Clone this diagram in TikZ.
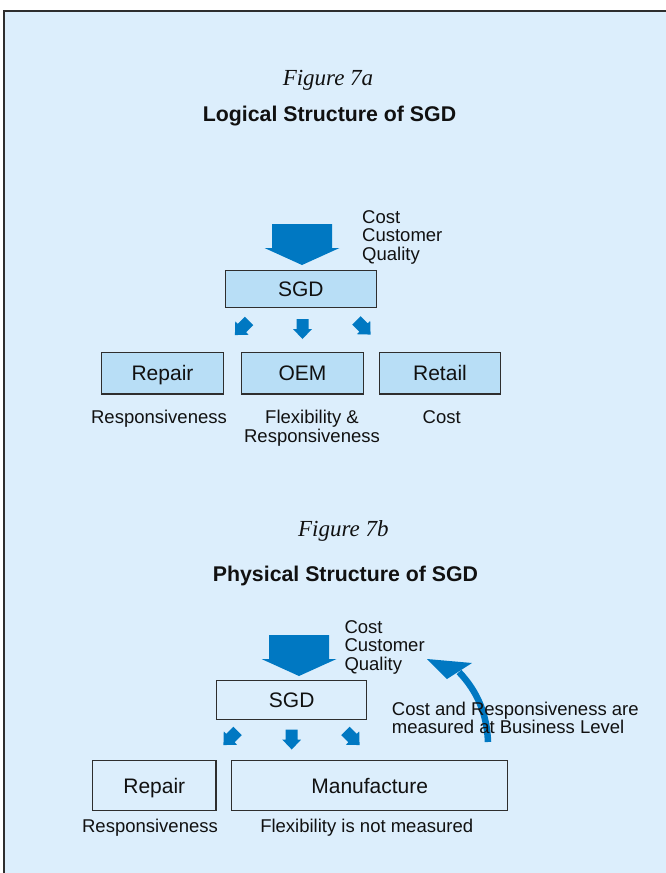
\documentclass[tikz,border=0pt]{standalone}
\usepackage{fontspec}
\setmainfont{Liberation Sans}
\newfontfamily\figfont{Liberation Serif}

\definecolor{panel}{HTML}{DCEEFC}
\definecolor{boxblue}{HTML}{B8DEF6}
\definecolor{arrowblue}{HTML}{0078C2}
\definecolor{edge}{HTML}{2E2E2E}
\definecolor{ink}{HTML}{111111}

\tikzset{
  unitbox/.style={draw=edge, line width=1.1pt, inner sep=0pt, text=ink,
    text height=15pt, text depth=0pt, font=\fontsize{21}{21}\selectfont},
  bluebox/.style={unitbox, fill=boxblue},
  caption/.style={inner sep=0pt, text=ink, font=\fontsize{18.5}{18.6}\selectfont},
  figtitle/.style={inner sep=0pt, text=ink, font=\figfont\itshape\fontsize{23}{23}\selectfont},
  headline/.style={inner sep=0pt, text=ink, font=\bfseries\fontsize{21.3}{21}\selectfont},
  pics/bigarrow/.style={code={
    \fill[arrowblue] (-30,-41) -- (30,-41) -- (30,-17) -- (37.5,-17) -- (0,0)
      -- (-37.5,-17) -- (-30,-17) -- cycle;}},
  pics/smallarrow/.style={code={
    \fill[arrowblue] (-6,-10) -- (6,-10) -- (6,0) -- (9.5,0) -- (0,10)
      -- (-9.5,0) -- (-6,0) -- cycle;}},
}

\begin{document}
\begin{tikzpicture}[x=1pt,y=-1pt]
\useasboundingbox (0,0) rectangle (666,873);

% panel and its frame
\fill[panel] (3,10) rectangle (666,873);
\draw[edge, line width=2pt] (4,873) -- (4,11) -- (666,11);

% ---------- Figure 7a ----------
\node[figtitle, anchor=base] (t7a) at (328,85) {Figure 7a};
\node[headline, anchor=base] (h7a) at (329.5,121.7) {Logical Structure of SGD};

\node[bluebox, minimum width=151.7pt, minimum height=37pt] (sgdA) at (300.9,289) {SGD};
\pic at (302,265) {bigarrow};
\node[caption, anchor=north west, align=left] (inA) at (362,210) {Cost\\Customer\\Quality};

\pic[rotate=-45] at (242,328) {smallarrow};
\pic at (302.5,329) {smallarrow};
\pic[rotate=45] at (363.5,327.5) {smallarrow};

\node[bluebox, minimum width=121.6pt, minimum height=41.3pt] (repA) at (162.5,373.3) {Repair};
\node[bluebox, minimum width=121.6pt, minimum height=41.3pt] (oemA) at (302.5,373.3) {OEM};
\node[bluebox, minimum width=121.4pt, minimum height=41.3pt] (retA) at (440,373.3) {Retail};

\node[caption, anchor=base] (mRepA) at (159,423.3) {Responsiveness};
\node[caption, anchor=north, align=center] (mOemA) at (312,410.3) {Flexibility \&\\Responsiveness};
\node[caption, anchor=base] (mRetA) at (441.7,423.3) {Cost};

% ---------- Figure 7b ----------
\node[figtitle, anchor=base] (t7b) at (343.3,536) {Figure 7b};
\node[headline, anchor=base] (h7b) at (345.5,581.7) {Physical Structure of SGD};

\node[unitbox, minimum width=150pt, minimum height=39.3pt] (sgdB) at (291.7,700) {SGD};
\pic at (299,676) {bigarrow};
\node[caption, anchor=north west, align=left] (inB) at (344.3,620) {Cost\\Customer\\Quality};

\pic[rotate=-45] at (230.5,738) {smallarrow};
\pic at (291.7,739.5) {smallarrow};
\pic[rotate=45] at (352.5,738) {smallarrow};

\node[unitbox, minimum width=123.3pt, minimum height=50pt] (repB) at (154.3,785.7) {Repair};
\node[unitbox, minimum width=276pt, minimum height=50pt] (manB) at (369.7,785.7) {Manufacture};

\node[caption, anchor=base] (mRepB) at (150,832.5) {Responsiveness};
\node[caption, anchor=base] (mManB) at (366.7,832.5) {Flexibility is not measured};

% feedback arrow from the manufacturing level back to the business inputs
\coordinate (fbStart) at (488,742);
\coordinate (fbEnd) at (459,672);
\draw[arrowblue, line width=6.5pt] (fbStart) .. controls (487,715) and (478,692) .. (fbEnd);
\fill[arrowblue] (427,659) -- (472,663) -- (447,679) -- cycle;

\node[caption, anchor=north west, align=left] (note) at (391.7,701.5)
  {Cost and Responsiveness are\\measured at Business Level};
\end{tikzpicture}
\end{document}
